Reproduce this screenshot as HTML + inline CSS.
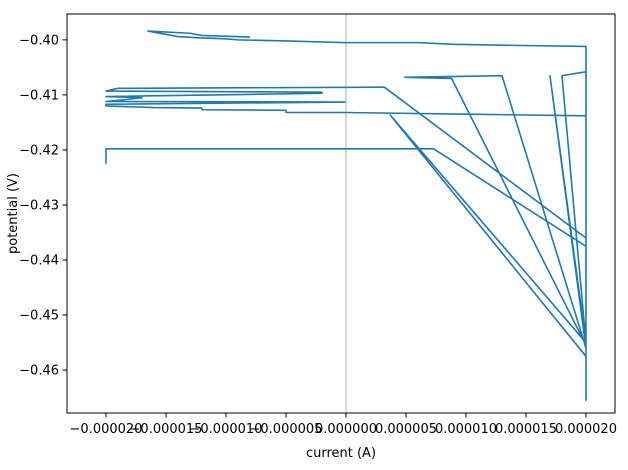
<!DOCTYPE html>
<html><head><meta charset="utf-8"><style>
body{margin:0;background:#fff;}
svg{display:block;font-family:"DejaVu Sans","Liberation Sans",sans-serif;}
</style></head><body>
<svg id="chart" width="628" height="470" viewBox="0 0 628 470"></svg>
<script>
// data: current in microamps (×1e-6 A), potential in V
const currentUA = [-20,-20,7.3,20,20,3.7,20,20,10,0,-5,-5,-12,-12,-16,-20,-20,-0.1,-20,-19,-17,-20,-2,-2,-20,-19,3.2,20,20,8.8,4.9,13,20,17,20,18,20,20,20,20,14,9,6,0,-5,-9,-10,-12.5,-14,-16.5,-13,-12,-8];
const potentialV = [-0.4225,-0.4198,-0.4198,-0.4375,-0.455,-0.4137,-0.4575,-0.4138,-0.4135,-0.4132,-0.4132,-0.4128,-0.4127,-0.4124,-0.4123,-0.4120,-0.4117,-0.4113,-0.4112,-0.4110,-0.4105,-0.4103,-0.4097,-0.4095,-0.4093,-0.4088,-0.4086,-0.4360,-0.4555,-0.4070,-0.4068,-0.4065,-0.4560,-0.4065,-0.4550,-0.4065,-0.4058,-0.4655,-0.4610,-0.4012,-0.4010,-0.4008,-0.4005,-0.4005,-0.4002,-0.4000,-0.3998,-0.3996,-0.3994,-0.3984,-0.3988,-0.3992,-0.3995];
const xTicks = [-20,-15,-10,-5,0,5,10,15,20];
const xTickLabels = ["\u22120.000020","\u22120.000015","\u22120.000010","\u22120.000005","0.000000","0.000005","0.000010","0.000015","0.000020"];
const yTicks = [-0.40,-0.41,-0.42,-0.43,-0.44,-0.45,-0.46];
const yTickLabels = ["\u22120.40","\u22120.41","\u22120.42","\u22120.43","\u22120.44","\u22120.45","\u22120.46"];

const L=67,R=615,T=14,B=413;
const xMin=-23.25,xMax=22.42,yMin=-0.4678,yMax=-0.3953;
const sx=v=>L+(v-xMin)/(xMax-xMin)*(R-L);
const sy=v=>B-(v-yMin)/(yMax-yMin)*(B-T);
const svg=document.getElementById('chart');
const NS='http://www.w3.org/2000/svg';
function mk(tag,attrs,parent){const e=document.createElementNS(NS,tag);for(const k in attrs)e.setAttribute(k,attrs[k]);(parent||svg).appendChild(e);return e;}

const zl=mk('line',{x1:sx(0),x2:sx(0),y1:T,y2:B,stroke:'#999','stroke-width':0.8});



let d='';
for(let i=0;i<currentUA.length;i++){d+=(i?'L':'M')+sx(currentUA[i]).toFixed(2)+','+sy(potentialV[i]).toFixed(2);}
const p=mk('path',{d:d,fill:'none',stroke:'#1f77b4','stroke-width':1.6,'stroke-linejoin':'round'});



const frame=mk('rect',{x:L,y:T,width:R-L,height:B-T,fill:'none',stroke:'#000','stroke-width':1});



xTicks.forEach((v,i)=>{
  const x=sx(v);
  const t=mk('line',{x1:x,x2:x,y1:B,y2:B+4.5,stroke:'#000','stroke-width':1});
  
  
  const tx=mk('text',{x:x,y:B+20,'font-size':13,'text-anchor':'middle',fill:'#000'});
  tx.textContent=xTickLabels[i];
  
  
});
yTicks.forEach((v,i)=>{
  const y=sy(v);
  const t=mk('line',{x1:L-4.5,x2:L,y1:y,y2:y,stroke:'#000','stroke-width':1});
  
  
  const tx=mk('text',{x:L-8,y:y+4.5,'font-size':13,'text-anchor':'end',fill:'#000'});
  tx.textContent=yTickLabels[i];
  
  
});
const xt=mk('text',{x:(L+R)/2,y:457,'font-size':13,'text-anchor':'middle',fill:'#000'});
xt.textContent='current (A)';


const yt=mk('text',{x:0,y:0,'font-size':13,'text-anchor':'middle',fill:'#000'});
yt.textContent='potential (V)';


yt.setAttribute('transform','translate(21,213.5) rotate(-90)');
yt.setAttribute('x','0');
yt.setAttribute('y','-4');
</script>
</body></html>
